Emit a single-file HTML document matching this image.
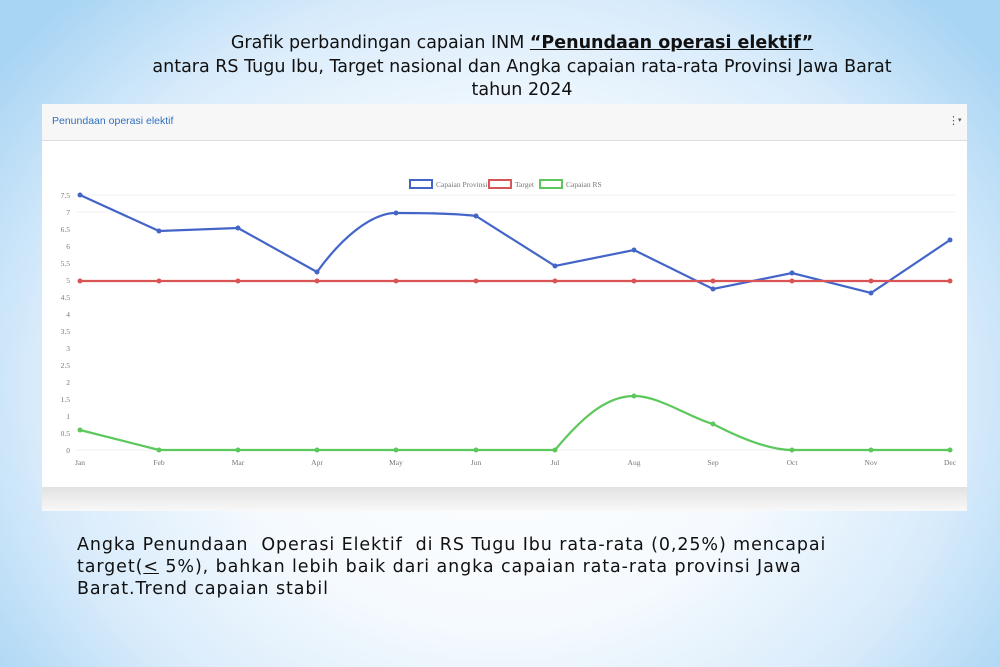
<!DOCTYPE html>
<html><head><meta charset="utf-8"><style>
body{margin:0;width:1000px;height:667px;overflow:hidden;font-family:"DejaVu Sans","Liberation Sans",sans-serif;
background:radial-gradient(ellipse 62% 80% at 50% 58%,#ffffff 0%,#f5fafe 45%,#d8ebfb 75%,#a9d5f4 100%);position:relative}
.t{position:absolute;left:0;width:1000px;text-align:center;font-size:17.5px;color:#111;line-height:22px}
.p{position:absolute;left:77px;top:534px;font-size:17.5px;line-height:22px;color:#111;letter-spacing:0.9px}
</style></head><body>
<div class="t" style="top:32px;left:22px">Grafik perbandingan capaian INM <b><u>“Penundaan operasi elektif”</u></b></div>
<div class="t" style="top:56px;left:22px">antara RS Tugu Ibu, Target nasional dan Angka capaian rata-rata Provinsi Jawa Barat</div>
<div class="t" style="top:79px;left:22px">tahun 2024</div>
<svg style="position:absolute;left:0;top:0" width="1000" height="667">
<defs><linearGradient id="g" x1="0" y1="0" x2="0" y2="1"><stop offset="0" stop-color="#e2e2e2"/><stop offset="1" stop-color="#f8f8f8"/></linearGradient></defs>
<rect x="42" y="104" width="925" height="407" fill="#fff"/>
<rect x="42" y="104" width="925" height="36" fill="#f7f7f7"/>
<line x1="42" y1="140.5" x2="967" y2="140.5" stroke="#ddd"/>
<rect x="42" y="487" width="925" height="24" fill="url(#g)"/>
<text x="52" y="124" font-family="Liberation Sans" font-size="10.5" fill="#2e6fc0">Penundaan operasi elektif</text>
<text x="948" y="124" font-size="11" fill="#555">⋮</text><text x="958" y="122" font-size="7" fill="#555">▾</text>
<g font-family="Liberation Serif" font-size="7.5" fill="#777">
<rect x="410" y="180" width="22" height="8" fill="none" stroke="#4465c8" stroke-width="2"/><text x="436" y="187">Capaian Provinsi</text>
<rect x="489" y="180" width="22" height="8" fill="none" stroke="#d95454" stroke-width="2"/><text x="515" y="187">Target</text>
<rect x="540" y="180" width="22" height="8" fill="none" stroke="#5cc85c" stroke-width="2"/><text x="566" y="187">Capaian RS</text>
<g text-anchor="end">
<text x="70" y="198">7.5</text><text x="70" y="215">7</text><text x="70" y="232">6.5</text><text x="70" y="249">6</text><text x="70" y="266">5.5</text><text x="70" y="283">5</text><text x="70" y="300">4.5</text><text x="70" y="317">4</text><text x="70" y="334">3.5</text><text x="70" y="351">3</text><text x="70" y="368">2.5</text><text x="70" y="385">2</text><text x="70" y="402">1.5</text><text x="70" y="419">1</text><text x="70" y="436">0.5</text><text x="70" y="453">0</text></g>
<g text-anchor="middle">
<text x="80" y="465">Jan</text><text x="159" y="465">Feb</text><text x="238" y="465">Mar</text><text x="317" y="465">Apr</text><text x="396" y="465">May</text><text x="476" y="465">Jun</text><text x="555" y="465">Jul</text><text x="634" y="465">Aug</text><text x="713" y="465">Sep</text><text x="792" y="465">Oct</text><text x="871" y="465">Nov</text><text x="950" y="465">Dec</text></g>
</g>
<g stroke="#f2f2f2"><line x1="76" y1="195" x2="955" y2="195"/><line x1="76" y1="212" x2="955" y2="212"/><line x1="76" y1="450" x2="955" y2="450"/></g>
<g fill="none" stroke-width="2.2">
<path d="M80,195 L159,231 L238,228 L317,272 C340,240 370,213 396,213 C430,213 460,214 476,216 L555,266 L634,250 L713,289 L792,273 L871,293 L950,240" stroke="#4465c8"/>
<path d="M80,281 L950,281" stroke="#d95454"/>
<path d="M80,430 L159,450 L555,450 C580,420 605,396 634,396 C660,396 690,418 713,424 C740,438 770,450 792,450 L950,450" stroke="#5cc85c"/>
</g>
<g fill="#4465c8"><circle cx="80" cy="195" r="2.5"/><circle cx="159" cy="231" r="2.5"/><circle cx="238" cy="228" r="2.5"/><circle cx="317" cy="272" r="2.5"/><circle cx="396" cy="213" r="2.5"/><circle cx="476" cy="216" r="2.5"/><circle cx="555" cy="266" r="2.5"/><circle cx="634" cy="250" r="2.5"/><circle cx="713" cy="289" r="2.5"/><circle cx="792" cy="273" r="2.5"/><circle cx="871" cy="293" r="2.5"/><circle cx="950" cy="240" r="2.5"/></g>
<g fill="#d95454"><circle cx="80" cy="281" r="2.5"/><circle cx="159" cy="281" r="2.5"/><circle cx="238" cy="281" r="2.5"/><circle cx="317" cy="281" r="2.5"/><circle cx="396" cy="281" r="2.5"/><circle cx="476" cy="281" r="2.5"/><circle cx="555" cy="281" r="2.5"/><circle cx="634" cy="281" r="2.5"/><circle cx="713" cy="281" r="2.5"/><circle cx="792" cy="281" r="2.5"/><circle cx="871" cy="281" r="2.5"/><circle cx="950" cy="281" r="2.5"/></g>
<g fill="#5cc85c"><circle cx="80" cy="430" r="2.5"/><circle cx="159" cy="450" r="2.5"/><circle cx="238" cy="450" r="2.5"/><circle cx="317" cy="450" r="2.5"/><circle cx="396" cy="450" r="2.5"/><circle cx="476" cy="450" r="2.5"/><circle cx="555" cy="450" r="2.5"/><circle cx="634" cy="396" r="2.5"/><circle cx="713" cy="424" r="2.5"/><circle cx="792" cy="450" r="2.5"/><circle cx="871" cy="450" r="2.5"/><circle cx="950" cy="450" r="2.5"/></g>
</svg>
<div class="p">Angka Penundaan&nbsp; Operasi Elektif&nbsp; di RS Tugu Ibu rata-rata (0,25%) mencapai<br>target(<u>&lt;</u> 5%), bahkan lebih baik dari angka capaian rata-rata provinsi Jawa<br>Barat.Trend capaian stabil</div>
</body></html>
